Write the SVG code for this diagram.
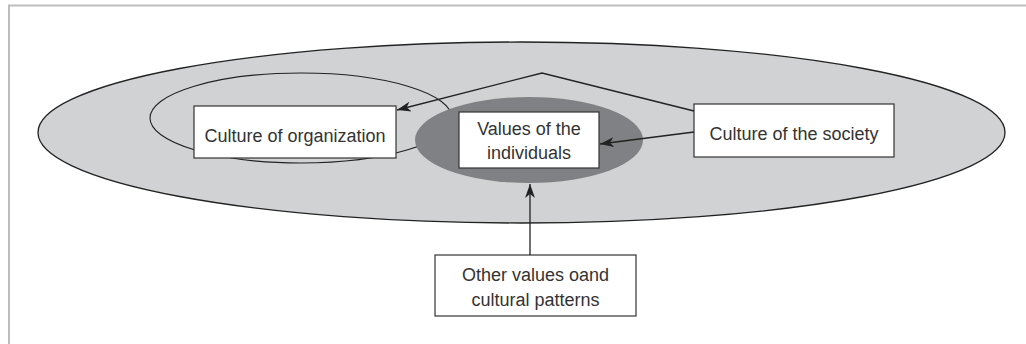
<svg xmlns="http://www.w3.org/2000/svg" width="1026" height="344" viewBox="0 0 1026 344">
<style>
.frame{stroke:#bdbdbd;stroke-width:2;fill:none}
.box{fill:#fff;stroke:#333;stroke-width:1.2}
.lbl{font-family:"Liberation Sans",Arial,sans-serif;font-size:18px;fill:#333;text-anchor:middle}
.conn{stroke:#222;stroke-width:1.3;fill:none}
</style>
<defs>
<marker id="ah" viewBox="0 0 14 10" refX="14" refY="5" markerWidth="14" markerHeight="10" markerUnits="userSpaceOnUse" orient="auto">
<path d="M0,0 L14,5 L0,10 L4,5 Z" fill="#222"/>
</marker>
</defs>
<rect width="1026" height="344" fill="#fff"/>
<path class="frame" d="M9,344 L9,5.5 L1026,5.5"/>
<g id="society-area">
<ellipse cx="521.5" cy="132.5" rx="483.5" ry="90.5" fill="#d1d2d4" stroke="#222" stroke-width="1.3"/>
</g>
<g id="organization-area">
<ellipse cx="301" cy="118" rx="151" ry="45" fill="none" stroke="#222" stroke-width="1.1"/>
</g>
<g id="individual-area">
<ellipse cx="529" cy="140" rx="114" ry="43" fill="#808184"/>
</g>
<g id="connectors">
<polyline class="conn" points="694,111 542,73 397,110" marker-end="url(#ah)"/>
<line class="conn" x1="694" y1="132" x2="600" y2="144" marker-end="url(#ah)"/>
<line class="conn" x1="530" y1="255" x2="530" y2="184" marker-end="url(#ah)"/>
</g>
<g id="culture-of-organization">
<rect class="box" x="194" y="106" width="202" height="52"/>
<text class="lbl" x="295" y="142">Culture of organization</text>
</g>
<g id="values-of-individuals">
<rect class="box" x="459" y="112" width="140" height="56"/>
<text class="lbl" x="529" y="135">Values of the</text>
<text class="lbl" x="529" y="159">individuals</text>
</g>
<g id="culture-of-society">
<rect class="box" x="694" y="104" width="200" height="53"/>
<text class="lbl" x="794" y="139.5">Culture of the society</text>
</g>
<g id="other-values">
<rect class="box" x="435" y="255" width="201" height="61"/>
<text class="lbl" x="535.5" y="281">Other values oand</text>
<text class="lbl" x="535.5" y="306">cultural patterns</text>
</g>
</svg>
